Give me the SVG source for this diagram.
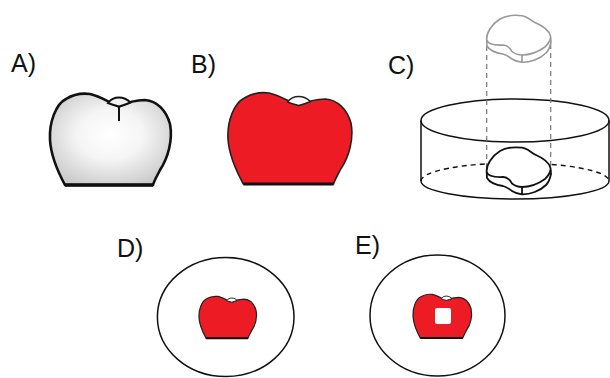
<svg xmlns="http://www.w3.org/2000/svg" xmlns:xlink="http://www.w3.org/1999/xlink" width="610" height="378" viewBox="0 0 610 378">
  <style>
    .label { font-family: "Liberation Sans", Arial, sans-serif; font-size: 25px; fill: #111; }
    .ring { fill: none; stroke: #111; stroke-width: 1.5; }
    .cyl { fill: none; stroke: #111; stroke-width: 1.5; }
    .dash { fill: none; stroke: #111; stroke-width: 1.4; stroke-dasharray: 5 4; }
    .guide { fill: none; stroke: #777; stroke-width: 1.2; stroke-dasharray: 5 4; }
  </style>
  <defs>
    <radialGradient id="enamel" cx="0.5" cy="0.45" r="0.6">
      <stop offset="0" stop-color="#ffffff"/>
      <stop offset="0.45" stop-color="#f5f5f5"/>
      <stop offset="1" stop-color="#cbcbcb"/>
    </radialGradient>
    <!-- crown outline, side view -->
    <path id="crown" vector-effect="non-scaling-stroke" d="M65,185 C58,172 51,157 50,140 C49,122 56,104 66,99 C74,94 82,93 90,94 C100,96 110,103 119,106.5 C126,103 134,100 145,100 C157,101 166,110 170,124 C173,140 168,158 160,170 C157,176 154,181 153,185 Z"/>
    <path id="cusp" vector-effect="non-scaling-stroke" d="M108,103 C111,99 115,97.5 119,97.5 C124,97.5 128,100 130.5,102.5 C127,104 123,105.5 119,106.5 C115,105.5 111,104.3 108,103 Z"/>
    <path id="base" vector-effect="non-scaling-stroke" d="M65,185 H153"/>
    <!-- crown, occlusal view with thickness -->
    <g id="slab">
      <path fill="#fff" d="M486.7,40 C486,33 492,24 500,19 C506,15.5 516,15 522,15.7 C528,16.5 531,21 536,23 C543,26 549,30 550.5,36 L551,42 C550,47 549,50 546,53 C540,59 530,62.5 522,62.3 C518,62 515,61 512,59 C509,57 507,55 503,54 C496,53 490,51 487,46 Z"/>
      <path fill="none" d="M486.7,40 C488,44 493,45.5 503,45 C508,45 510,48 512,51.5 C515,54 518,55 522,55 C530,55 538,52 545,47 C548,44 550,41 550.5,38"/>
      <path fill="none" d="M522,55 V62.3"/>
    </g>
  </defs>

  <!-- panel labels -->
  <text class="label" x="11" y="72">A)</text>
  <text class="label" x="191" y="73">B)</text>
  <text class="label" x="388" y="74">C)</text>
  <text class="label" x="117" y="257">D)</text>
  <text class="label" x="355" y="254">E)</text>

  <!-- A: natural crown -->
  <g id="crown-a">
    <use xlink:href="#crown" fill="url(#enamel)" stroke="#111" stroke-width="2.6"/>
    <use xlink:href="#cusp" fill="#f2f2f2" stroke="#111" stroke-width="2"/>
    <path d="M119,106.5 V121" stroke="#111" stroke-width="2"/>
    <use xlink:href="#base" stroke="#111" stroke-width="3.5"/>
  </g>

  <!-- B: crown filled red -->
  <g id="crown-b" transform="translate(176.75,-1) scale(1.025,1)">
    <use xlink:href="#crown" fill="#ed1c24" stroke="#222" stroke-width="1.6"/>
    <use xlink:href="#cusp" fill="#fff" stroke="#222" stroke-width="1.4"/>
    <use xlink:href="#base" stroke="#111" stroke-width="3"/>
  </g>

  <!-- C: specimen in mould cylinder -->
  <g id="mould">
    <path class="dash" d="M421,181 A94,18 0 0 1 609,181"/>
    <path class="cyl" d="M421,181 A94,18 0 0 0 609,181"/>
    <path class="cyl" d="M421,120.5 V181 M609,120.5 V181"/>
    <ellipse class="cyl" cx="515" cy="120.5" rx="94" ry="21.5"/>
  </g>
  <g id="connectors">
    <path class="guide" d="M486.7,46 V172 M550.7,44 V168"/>
  </g>
  <g id="specimen-top">
    <use xlink:href="#slab" stroke="#999" stroke-width="1.6"/>
  </g>
  <g id="specimen-bottom">
    <use xlink:href="#slab" transform="translate(0,132)" stroke="#111" stroke-width="1.8"/>
  </g>

  <!-- D: embedded crown -->
  <g id="disc-d">
    <ellipse class="ring" cx="225.7" cy="317" rx="68.3" ry="59.5"/>
    <g transform="translate(175.25,253.2) scale(0.475,0.46)">
      <use xlink:href="#crown" fill="#ed1c24" stroke="#222" stroke-width="1.2"/>
      <use xlink:href="#cusp" fill="#fff" stroke="#222" stroke-width="1"/>
      <use xlink:href="#base" stroke="#111" stroke-width="2"/>
    </g>
  </g>

  <!-- E: embedded crown with window -->
  <g id="disc-e">
    <ellipse class="ring" cx="437.5" cy="315.5" rx="67.5" ry="60.5"/>
    <g transform="translate(388.8,249.5) scale(0.484,0.478)">
      <use xlink:href="#crown" fill="#ed1c24" stroke="#222" stroke-width="1.2"/>
      <use xlink:href="#cusp" fill="#fff" stroke="#222" stroke-width="1"/>
      <use xlink:href="#base" stroke="#111" stroke-width="2"/>
    </g>
    <rect x="435" y="308" width="16" height="16" rx="2" fill="#fff"/>
  </g>
</svg>
